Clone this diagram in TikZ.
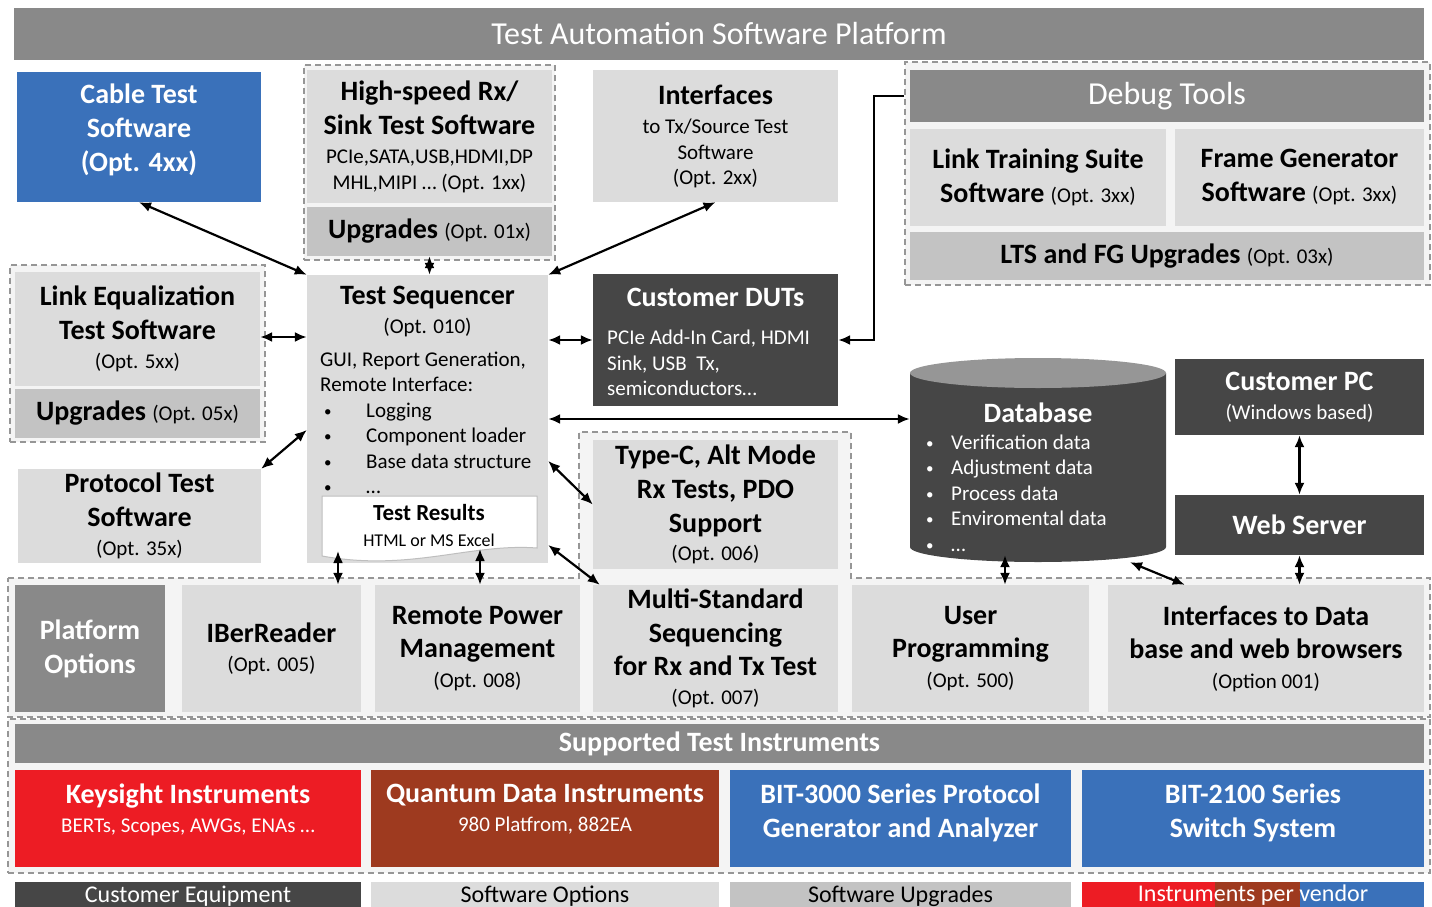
\documentclass[tikz,border=0pt]{standalone}
\usepackage{fontspec}
\setmainfont{Carlito}
\usetikzlibrary{arrows.meta}

\definecolor{litegray}{RGB}{220,220,220}
\definecolor{upggray}{RGB}{195,195,195}
\definecolor{bargray}{RGB}{137,137,137}
\definecolor{dutgray}{RGB}{70,70,70}
\definecolor{dbtop}{RGB}{150,150,150}
\definecolor{grpfill}{RGB}{244,244,244}
\definecolor{dashgray}{RGB}{150,150,150}
\definecolor{docgray}{RGB}{190,190,190}
\definecolor{kblue}{RGB}{58,113,186}
\definecolor{kred}{RGB}{237,28,36}
\definecolor{kbrown}{RGB}{158,58,31}

\newcommand\boxtitle{\fontsize{28}{34}\selectfont\bfseries}
\newcommand\boxnote{\fontsize{21}{25.5}\selectfont\mdseries}
\newcommand\bartitle{\fontsize{32}{34}\selectfont}
\newcommand\legtext{\fontsize{24}{26}\selectfont}
\newcommand\restitle{\fontsize{23}{30}\selectfont\bfseries}
\newcommand\resnote{\fontsize{18}{20}\selectfont\mdseries}
\newcommand\smallbullet{\raisebox{1pt}{\fontsize{15}{15}\selectfont\textbullet}}
\newcommand\blt{\hspace*{4pt}\makebox[42pt][l]{\smallbullet}}
\newcommand\dblt{\makebox[25pt][l]{\smallbullet}}

\tikzset{
  boxbase/.style={inner sep=0pt, align=center, font=\boxtitle},
  sz/.style 2 args={minimum width=#1pt, minimum height=#2pt},
  litebox/.style={boxbase, fill=litegray},
  upgbox/.style={boxbase, fill=upggray},
  darkbox/.style={boxbase, fill=dutgray, text=white},
  barbox/.style={boxbase, fill=bargray, text=white, font=\bartitle},
  bluebox/.style={boxbase, fill=kblue},
  redbox/.style={boxbase, fill=kred},
  brownbox/.style={boxbase, fill=kbrown},
  wtxt/.style={boxbase, text=white},
  grp/.style={draw=dashgray, fill=grpfill, line width=1.5pt, dash pattern=on 6pt off 4pt, inner sep=0pt},
  docline/.style={draw=docgray, fill=white, line width=1pt},
  dbl/.style={{Latex[length=12pt,width=10pt]}-{Latex[length=12pt,width=10pt]}, line width=2.2pt},
  sglarrow/.style={-{Latex[length=12pt,width=10pt]}, line width=2.2pt},
}

\begin{document}
\begin{tikzpicture}[x=1pt, y=-1pt]
  \useasboundingbox (0,0) rectangle (1432,907);
  \clip (0,0) rectangle (1432,907);

  % title bar
  \node[barbox, sz={1410}{52}] (titlebar) at (719,34) {Test Automation Software Platform};

  % dashed groups
  \node[grp, sz={251}{195}] (hsgrp) at (429.5,162.5) {};
  \node[grp, sz={525}{223}] (debuggrp) at (1167.5,173.5) {};
  \node[grp, sz={255}{177}] (leqgrp) at (137.5,353.5) {};
  \draw[grp] (8,578) -- (579,578) -- (579,432) -- (851,432) -- (851,578) -- (1430,578) -- (1430,717) -- (8,717) -- cycle;
  \node[grp, sz={1422}{154}] (instrgrp) at (719,796) {};

  % top row
  \node[bluebox, sz={244}{130}] (cable) at (139,137) {};
  \node[wtxt] (cabletxt) at ([yshift=7pt]cable.center) {Cable Test\\Software\\(Opt. 4xx)};
  \node[litebox, sz={245}{133}] (hs) at (429.5,136.5) {High-speed Rx/\\Sink Test Software\\[-5pt]{\boxnote PCIe,SATA,USB,HDMI,DP}\\[-8pt]{\boxnote MHL,MIPI \ldots{} (Opt. 1xx)}};
  \node[upgbox, sz={245}{49}] (hsupg) at (429.5,231.5) {Upgrades {\boxnote (Opt. 01x)}};
  \node[litebox, sz={245}{132}] (intf) at (715.5,136) {Interfaces\\[-5pt]{\boxnote to Tx/Source Test}\\[-8pt]{\boxnote Software}\\[-9pt]{\boxnote (Opt. 2xx)}};

  % debug tools
  \node[barbox, sz={514}{52}] (debugbar) at (1167,96) {Debug Tools};
  \node[litebox, sz={256}{97}] (lts) at (1038,177.5) {Link Training Suite\\Software {\boxnote (Opt. 3xx)}};
  \node[litebox, sz={249}{97}] (fg) at (1299.5,177.5) {Frame Generator\\Software {\boxnote (Opt. 3xx)}};
  \node[upgbox, sz={514}{48}] (ltsupg) at (1167,256) {LTS and FG Upgrades {\boxnote (Opt. 03x)}};

  % link equalization, protocol
  \node[litebox, sz={245}{114}] (leq) at (137.5,329) {Link Equalization\\Test Software\\[-5pt]{\boxnote (Opt. 5xx)}};
  \node[upgbox, sz={245}{49}] (lequpg) at (137.5,413.5) {Upgrades {\boxnote (Opt. 05x)}};
  \node[litebox, sz={243}{94}] (proto) at (139.5,516) {Protocol Test\\Software\\[-5pt]{\boxnote (Opt. 35x)}};

  % test sequencer
  \node[litebox, sz={241}{288}] (seq) at (427.5,419) {};
  \node[boxbase] (seqtitle) at (427.5,312) {Test Sequencer\\[-5pt]{\boxnote (Opt. 010)}};
  \node[boxbase, font=\boxnote, align=left, anchor=west] (seqlist) at (320,423) {GUI, Report Generation,\\Remote Interface:\\\blt Logging\\\blt Component loader\\\blt Base data structure\\\blt \ldots};
  \filldraw[docline] (322,496) -- (537,496) -- (537,548) .. controls (470,543) and (410,572) .. (322,556) -- cycle;
  \node[boxbase, font=\restitle] (results) at (429,525) {Test Results\\[-4pt]{\resnote HTML or MS Excel}};
  \coordinate (resA) at (338,551);
  \coordinate (resB) at (480,549);

  % customer DUTs
  \node[darkbox, sz={245}{132}] (duts) at (715.5,340) {};
  \node[wtxt] (dutstitle) at (715.5,297) {Customer DUTs};
  \node[wtxt, font=\boxnote, align=left, anchor=west] (dutstext) at (607,363) {PCIe Add-In Card, HDMI\\Sink, USB\ \ Tx,\\semiconductors\ldots};

  % database
  \fill[dutgray] (910,373) -- (910,547) arc[start angle=180, end angle=360, x radius=128pt, y radius=15pt] -- (1166,373) -- cycle;
  \fill[dbtop] (1038,373) ellipse[x radius=128pt, y radius=15pt];
  \node[boxbase, sz={256}{204}] (db) at (1038,460) {};
  \node[wtxt] (dbtitle) at (1038,413) {Database};
  \node[wtxt, font=\boxnote, align=left, anchor=west] (dblist) at (926,493) {\dblt Verification data\\\dblt Adjustment data\\\dblt Process data\\\dblt Enviromental data\\\dblt \ldots};

  % customer PC, web server
  \node[darkbox, sz={249}{76}] (custpc) at (1299.5,397) {Customer PC\\[-5pt]{\boxnote (Windows based)}};
  \node[darkbox, sz={249}{60}] (websrv) at (1299.5,525) {Web Server};

  % type-c
  \node[litebox, sz={245}{129}] (typec) at (715.5,504.5) {Type-C, Alt Mode\\Rx Tests, PDO\\Support\\[-6pt]{\boxnote (Opt. 006)}};

  % platform options
  \node[barbox, font=\boxtitle, sz={150}{127}] (platopt) at (90,648.5) {Platform\\Options};
  \node[litebox, sz={179}{127}] (iber) at (271.5,648.5) {IBerReader\\[-5pt]{\boxnote (Opt. 005)}};
  \node[litebox, sz={205}{127}] (rpm) at (477.5,648.5) {Remote Power\\[-1pt]Management\\[-4pt]{\boxnote (Opt. 008)}};
  \node[litebox, sz={245}{127}] (multi) at (715.5,648.5) {Multi-Standard\\Sequencing\\[-1pt]for Rx and Tx Test\\[-5pt]{\boxnote (Opt. 007)}};
  \node[litebox, sz={237}{127}] (userprog) at (970.5,648.5) {User\\[-1pt]Programming\\[-4pt]{\boxnote (Opt. 500)}};
  \node[litebox, sz={316}{127}] (intfdata) at (1266,648.5) {Interfaces to Data\\[-1pt]base and web browsers\\[-4pt]{\boxnote (Option 001)}};

  % supported instruments
  \node[barbox, font=\boxtitle, sz={1409}{39}] (supbar) at (719.5,743.5) {Supported Test Instruments};
  \node[redbox, sz={346}{97}] (keys) at (188,818.5) {};
  \node[wtxt] (keystxt) at ([yshift=9pt]keys.center) {Keysight Instruments\\[-5pt]{\boxnote BERTs, Scopes, AWGs, ENAs \ldots}};
  \node[brownbox, sz={348}{97}] (qd) at (545,818.5) {};
  \node[wtxt] (qdtxt) at ([yshift=9pt]qd.center) {Quantum Data Instruments\\[-5pt]{\boxnote 980 Platfrom, 882EA}};
  \node[bluebox, sz={341}{97}] (bit3) at (900.5,818.5) {};
  \node[wtxt] (bit3txt) at ([yshift=6pt]bit3.center) {BIT-3000 Series Protocol\\Generator and Analyzer};
  \node[bluebox, sz={342}{97}] (bit2) at (1253,818.5) {};
  \node[wtxt] (bit2txt) at ([yshift=6pt]bit2.center) {BIT-2100 Series\\Switch System};

  % legend
  \node[darkbox, font=\legtext, sz={346}{28}] (legcust) at (188,896) {Customer Equipment};
  \node[litebox, font=\legtext, sz={348}{28}] (legopt) at (545,896) {Software Options};
  \node[upgbox, font=\legtext, sz={341}{28}] (legupg) at (900.5,896) {Software Upgrades};
  \node[redbox, sz={133}{28}] (legred) at (1148.5,896) {};
  \node[brownbox, sz={85}{28}] (legbrown) at (1257.5,896) {};
  \node[bluebox, sz={124}{28}] (legblue) at (1362,896) {};
  \node[wtxt, font=\legtext] (legvend) at (1253,895) {Instruments per vendor};

  % connectors
  \draw[dbl] (cable.south) -- (seq.north west);
  \draw[dbl] (hsupg.south) -- (hsupg.south |- seq.north);
  \draw[dbl] (intf.south) -- (seq.north east);
  \draw[dbl] ([yshift=-8pt]leq.east) -- ([yshift=-8pt]leq.east -| seq.west);
  \draw[dbl] (duts.west -| seq.east) -- (duts.west);
  \draw[sglarrow] (debuggrp.west |- debugbar.west) -- ++(-30,0) |- (duts.east);
  \draw[dbl] (seq.east) -- (seq.east -| db.west);
  \draw[dbl] (proto.north east) -- ([yshift=-11pt]seq.west);
  \draw[dbl] ([yshift=-42pt]seq.east) -- (typec.west);
  \draw[dbl] ([yshift=-126pt]seq.east) -- ([xshift=7pt]multi.north west);
  \draw[dbl] (resA) -- (resA |- iber.north);
  \draw[dbl] (resB) -- (resB |- rpm.north);
  \draw[dbl] ([xshift=-33pt,yshift=7pt]db.south) -- ([xshift=-33pt]db.south |- userprog.north);
  \draw[dbl] ([xshift=92pt]db.south) -- ([xshift=77pt]intfdata.north west);
  \draw[dbl] (custpc.south) -- (websrv.north);
  \draw[dbl] (websrv.south) -- (websrv.south |- intfdata.north);
\end{tikzpicture}
\end{document}
